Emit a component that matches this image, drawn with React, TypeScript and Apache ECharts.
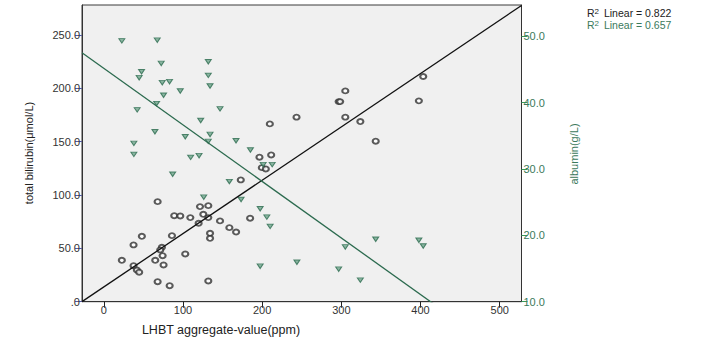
import React, { useEffect, useRef } from "react";
import * as echarts from "echarts";

// LHBT aggregate-value (ppm) vs total bilirubin (μmol/L), left axis
const bilirubinX = [305, 296.6, 298.5, 305, 324, 343.4, 403.4, 397.9, 243.4, 209.7, 196.6, 211.4, 199.6, 204.6, 173, 121.5, 132, 125.7, 132, 146.8, 184.8, 158.6, 167.1, 134.2, 134.2, 132, 68, 89, 96.6, 109.3, 119.8, 86.1, 48.1, 37.6, 73.4, 71.3, 74.3, 102.9, 22.8, 65, 37.6, 75.5, 41.8, 44.7, 68, 83.2];
const bilirubinY = [197.5, 187.5, 187.5, 172.9, 168.8, 150.4, 211, 188.2, 172.9, 166.6, 135.4, 137.5, 125.6, 124.4, 114.1, 89.1, 90, 81.9, 78.8, 75.7, 78.2, 69.4, 65.3, 64.1, 59.4, 19.4, 93.75, 80.6, 80.3, 78.8, 73.5, 61.9, 61.3, 53.2, 51, 48.5, 43.1, 44.7, 38.8, 38.8, 33.75, 34.4, 29.7, 27.6, 18.75, 15];

// LHBT aggregate-value (ppm) vs albumin (g/L), right axis
const albuminX = [22.8, 67.5, 72.5, 47.7, 44.7, 73.8, 83, 75.5, 96.6, 66.7, 42.2, 132, 132, 134.2, 146.8, 122.4, 64.6, 102.9, 134.2, 132, 38, 38, 109.7, 120.3, 167, 185.2, 87, 126.2, 158.6, 173.4, 197.5, 205.9, 210.1, 197.5, 243.9, 201.3, 212.7, 305, 343.4, 397.9, 403.4, 296.6, 324];
const albuminY = [49.3, 49.4, 45.9, 44.65, 43.75, 43.0, 43.15, 41.1, 41.75, 39.85, 38.9, 46.15, 44.1, 42.5, 39.05, 37.3, 35.6, 34.85, 35.2, 34.15, 33.85, 32.2, 31.75, 32.0, 34.25, 32.86, 29.2, 25.75, 28.1, 25.4, 24.0, 22.75, 21.35, 15.35, 15.95, 30.65, 30.65, 18.25, 19.4, 19.25, 18.4, 14.9, 13.25];

// Linear fits
const bilirubinFit = { intercept: 13.8, slope: 0.5, r2: "0.822" };
const albuminFit = { intercept: 45.16, slope: -0.0852, r2: "0.657" };

// Axis ticks
const xTicks = [0, 100, 200, 300, 400, 500];
const leftTicks = [0, 50, 100, 150, 200, 250];
const rightTicks = [10, 20, 30, 40, 50];

const X_MIN = -27.5;
const X_MAX = 527.5;

const FONT = "'Liberation Sans', Arial, sans-serif";
const GREEN = "#2c6b4f";
const GREEN_TEXT = "#3b7a5c";

export default function App() {
  const ref = useRef<HTMLDivElement>(null);

  useEffect(() => {
    document.body.style.margin = "0";
    if (!ref.current) return;
    const chart = echarts.init(ref.current, undefined, { renderer: "svg" });

    const circles = bilirubinX.map((x, i) => [x, bilirubinY[i]]);
    const triangles = albuminX.map((x, i) => [x, albuminY[i]]);
    const fitLine = (f: { intercept: number; slope: number }) => [
      [X_MIN, f.intercept + f.slope * X_MIN],
      [X_MAX, f.intercept + f.slope * X_MAX],
    ];

    chart.setOption({
      animation: false,
      backgroundColor: "#ffffff",
      grid: {
        left: 82,
        top: 5,
        width: 439.5,
        height: 296.7,
        show: true,
        backgroundColor: "#f0f0f0",
        borderColor: "#3a3a3a",
        borderWidth: 1,
      },
      xAxis: {
        type: "value",
        min: X_MIN,
        max: X_MAX,
        splitLine: { show: false },
        axisLine: { show: true, onZero: false, lineStyle: { color: "#333", width: 1 } },
        axisTick: { show: true, customValues: xTicks, length: 6, lineStyle: { color: "#222", width: 1 } },
        axisLabel: { customValues: xTicks, fontSize: 11, color: "#333", margin: 3, fontFamily: FONT },
      },
      yAxis: [
        {
          type: "value",
          position: "left",
          min: 0,
          max: 278,
          splitLine: { show: false },
          axisLine: { show: true, onZero: false, lineStyle: { color: "#333", width: 1 } },
          axisTick: { show: true, customValues: leftTicks, length: 7, lineStyle: { color: "#5a5aa0", width: 1 } },
          axisLabel: {
            customValues: leftTicks,
            fontSize: 11,
            color: "#333",
            margin: 2,
            fontFamily: FONT,
            formatter: (v: number) => (v === 0 ? ".0" : v.toFixed(1)),
          },
        },
        {
          type: "value",
          position: "right",
          min: 10,
          max: 54.7,
          splitLine: { show: false },
          axisLine: { show: true, onZero: false, lineStyle: { color: "#333", width: 1 } },
          axisTick: { show: true, customValues: rightTicks, length: 6, lineStyle: { color: "#3a9a5a", width: 1 } },
          axisLabel: {
            customValues: rightTicks,
            fontSize: 11,
            color: GREEN_TEXT,
            margin: 2,
            fontFamily: FONT,
            formatter: (v: number) => v.toFixed(1),
          },
        },
      ],
      series: [
        {
          type: "scatter",
          yAxisIndex: 0,
          data: circles,
          symbol: "emptyCircle",
          symbolSize: [6, 5],
          itemStyle: { color: "#333", borderColor: "#333", borderWidth: 1 },
          z: 2,
        },
        {
          type: "scatter",
          yAxisIndex: 1,
          data: triangles,
          symbol: "triangle",
          symbolRotate: 180,
          symbolSize: [6, 4.5],
          itemStyle: { color: "#6fa58c", borderColor: GREEN, borderWidth: 1 },
          z: 2,
        },
        {
          type: "line",
          yAxisIndex: 0,
          data: fitLine(bilirubinFit),
          showSymbol: false,
          clip: true,
          lineStyle: { color: "#111", width: 1.3 },
          z: 3,
        },
        {
          type: "line",
          yAxisIndex: 1,
          data: fitLine(albuminFit),
          showSymbol: false,
          clip: true,
          lineStyle: { color: GREEN, width: 1.3 },
          z: 3,
        },
      ],
      graphic: [
        {
          type: "text",
          x: 221,
          y: 330,
          style: {
            text: "LHBT aggregate-value(ppm)",
            fontSize: 12.5,
            fontFamily: FONT,
            fill: "#222",
            align: "center",
            verticalAlign: "middle",
          },
        },
        {
          type: "text",
          x: 29,
          y: 153,
          rotation: Math.PI / 2,
          style: {
            text: "total bilirubin(μmol/L)",
            fontSize: 11,
            fontFamily: FONT,
            fill: "#222",
            align: "center",
            verticalAlign: "middle",
          },
        },
        {
          type: "text",
          x: 574,
          y: 154,
          rotation: Math.PI / 2,
          style: {
            text: "albumin(g/L)",
            fontSize: 11,
            fontFamily: FONT,
            fill: GREEN_TEXT,
            align: "center",
            verticalAlign: "middle",
          },
        },
        {
          type: "text",
          x: 587,
          y: 13,
          style: {
            text: "{a|R}{s|2}{a| Linear = " + bilirubinFit.r2 + "}",
            verticalAlign: "middle",
            rich: {
              a: { fontSize: 10.5, fontFamily: FONT, fill: "#222", color: "#222" },
              s: { fontSize: 8, fontFamily: FONT, fill: "#222", color: "#222", verticalAlign: "top", padding: [0, 2, 4, 0] },
            },
          },
        },
        {
          type: "text",
          x: 587,
          y: 25,
          style: {
            text: "{a|R}{s|2}{a| Linear = " + albuminFit.r2 + "}",
            verticalAlign: "middle",
            rich: {
              a: { fontSize: 10.5, fontFamily: FONT, fill: GREEN_TEXT, color: GREEN_TEXT },
              s: { fontSize: 8, fontFamily: FONT, fill: GREEN_TEXT, color: GREEN_TEXT, verticalAlign: "top", padding: [0, 2, 4, 0] },
            },
          },
        },
      ],
    });

    return () => chart.dispose();
  }, []);

  return <div ref={ref} style={{ width: 714, height: 352, background: "#fff" }} />;
}
